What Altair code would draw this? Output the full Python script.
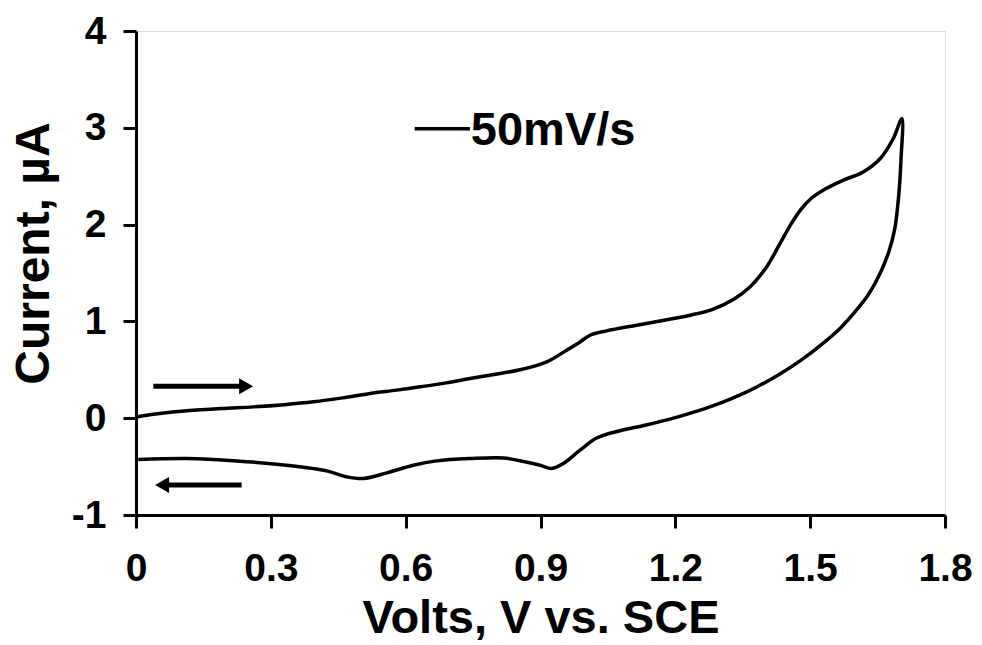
import altair as alt
import pandas as pd

# Forward (anodic) scan
fwd_v = [0.0, 0.053, 0.113, 0.19, 0.261, 0.33, 0.395, 0.46, 0.521, 0.58, 0.632, 0.69, 0.743, 0.80,
         0.854, 0.914, 0.958, 0.988, 1.010, 1.047, 1.114, 1.196, 1.233, 1.28, 1.33, 1.366, 1.403,
         1.433, 1.458, 1.48, 1.502, 1.529, 1.574, 1.618, 1.656, 1.685, 1.704]
fwd_i = [0.013, 0.048, 0.076, 0.10, 0.117, 0.14, 0.169, 0.21, 0.255, 0.29, 0.324, 0.365, 0.41, 0.455,
         0.50, 0.582, 0.702, 0.788, 0.857, 0.902, 0.961, 1.030, 1.064, 1.12, 1.23, 1.356, 1.563,
         1.805, 2.01, 2.16, 2.27, 2.355, 2.459, 2.544, 2.683, 2.889, 3.096]
# Reverse (cathodic) scan
rev_v = [1.702, 1.697, 1.688, 1.675, 1.656, 1.630, 1.600, 1.567, 1.525, 1.480, 1.430, 1.380, 1.344,
         1.30, 1.25, 1.188, 1.13, 1.077, 1.025, 0.988, 0.951, 0.925, 0.899, 0.854, 0.817, 0.743,
         0.669, 0.617, 0.558, 0.506, 0.469, 0.424, 0.335, 0.224, 0.113, 0.005]
rev_i = [2.665, 2.30, 1.95, 1.72, 1.50, 1.28, 1.10, 0.93, 0.76, 0.60, 0.45, 0.32, 0.24,
         0.155, 0.075, -0.01, -0.075, -0.13, -0.205, -0.33, -0.468, -0.52, -0.486, -0.44, -0.41, -0.417,
         -0.441, -0.486, -0.565, -0.623, -0.606, -0.544, -0.486, -0.441, -0.417, -0.427]

x_ticks = [0, 0.3, 0.6, 0.9, 1.2, 1.5, 1.8]
y_ticks = [-1, 0, 1, 2, 3, 4]

legend_label = "50mV/s"
legend_line_v = [0.62, 0.743]
legend_line_i = 2.99
legend_text_v = 0.745
legend_text_i = 2.82

arrow_fwd = {"v0": 0.0385, "v1": 0.235, "head": 0.245, "i": 0.33}
arrow_rev = {"v0": 0.235, "v1": 0.07, "head": 0.058, "i": -0.69}

FONT = "Liberation Sans"

V = fwd_v + rev_v
I = fwd_i + rev_i
df = pd.DataFrame({"V": V, "I": I, "k": list(range(len(V)))})

xs = alt.Scale(domain=[0, 1.8], nice=False, zero=False)
ys = alt.Scale(domain=[-1, 4], nice=False, zero=False)

x_axis = alt.Axis(
    values=x_ticks, labelExpr="'' + datum.value", title="Volts, V vs. SCE",
    grid=False, domainColor="black", domainWidth=3, tickColor="black", tickWidth=3, tickSize=13,
    labelFont=FONT, labelFontSize=39, labelFontWeight="bold", labelColor="black",
    labelBaseline="alphabetic", labelPadding=52,
    titleFont=FONT, titleFontSize=47, titleFontWeight="bold", titleColor="black",
    titleY=117, titleBaseline="alphabetic", labelFlush=False, labelOverlap=False,
)
y_axis = alt.Axis(
    values=y_ticks, labelExpr="'' + datum.value", title="Current, µA",
    grid=False, domainColor="black", domainWidth=3, tickColor="black", tickWidth=3, tickSize=13,
    labelFont=FONT, labelFontSize=39, labelFontWeight="bold", labelColor="black", labelPadding=17,
    titleFont=FONT, titleFontSize=48, titleFontWeight="bold", titleColor="black",
    titleX=-88, titleY=222, titleAngle=-90, titleBaseline="alphabetic", titleAlign="center",
    labelFlush=False, labelOverlap=False,
)

curve = alt.Chart(df).mark_line(color="black", strokeWidth=3.5, strokeJoin="round",
                                interpolate="catmull-rom").encode(
    x=alt.X("V:Q", scale=xs, axis=x_axis),
    y=alt.Y("I:Q", scale=ys, axis=y_axis),
    order="k:Q",
)

arrows_df = pd.DataFrame({
    "v0": [arrow_fwd["v0"], arrow_rev["v0"]],
    "v1": [arrow_fwd["v1"], arrow_rev["v1"]],
    "head": [arrow_fwd["head"], arrow_rev["head"]],
    "i": [arrow_fwd["i"], arrow_rev["i"]],
    "shape": ["triangle-right", "triangle-left"],
})
shafts = alt.Chart(arrows_df).mark_rule(color="black", strokeWidth=5).encode(
    x=alt.X("v0:Q", scale=xs), x2="v1:Q", y=alt.Y("i:Q", scale=ys)
)
heads = alt.Chart(arrows_df).mark_point(filled=True, color="black", opacity=1, size=260).encode(
    x=alt.X("head:Q", scale=xs), y=alt.Y("i:Q", scale=ys),
    shape=alt.Shape("shape:N", scale=None),
)

leg_df = pd.DataFrame({"v0": [legend_line_v[0]], "v1": [legend_line_v[1]], "i": [legend_line_i],
                       "tv": [legend_text_v], "ti": [legend_text_i], "label": [legend_label]})
leg_line = alt.Chart(leg_df).mark_rule(color="black", strokeWidth=3.5).encode(
    x=alt.X("v0:Q", scale=xs), x2="v1:Q", y=alt.Y("i:Q", scale=ys)
)
leg_text = alt.Chart(leg_df).mark_text(
    font=FONT, fontSize=47, fontWeight="bold", color="black", align="left", baseline="alphabetic"
).encode(x=alt.X("tv:Q", scale=xs), y=alt.Y("ti:Q", scale=ys), text="label:N")

chart = alt.layer(curve, shafts, heads, leg_line, leg_text).properties(
    width=809, height=484,
    autosize=alt.AutoSizeParams(type="none"),
    padding={"left": 136, "top": 31, "right": 37, "bottom": 130},
).configure_view(stroke="black", strokeWidth=3).configure(background="white")

chart.save("out.html", embed_options={"renderer": "svg", "actions": False})
